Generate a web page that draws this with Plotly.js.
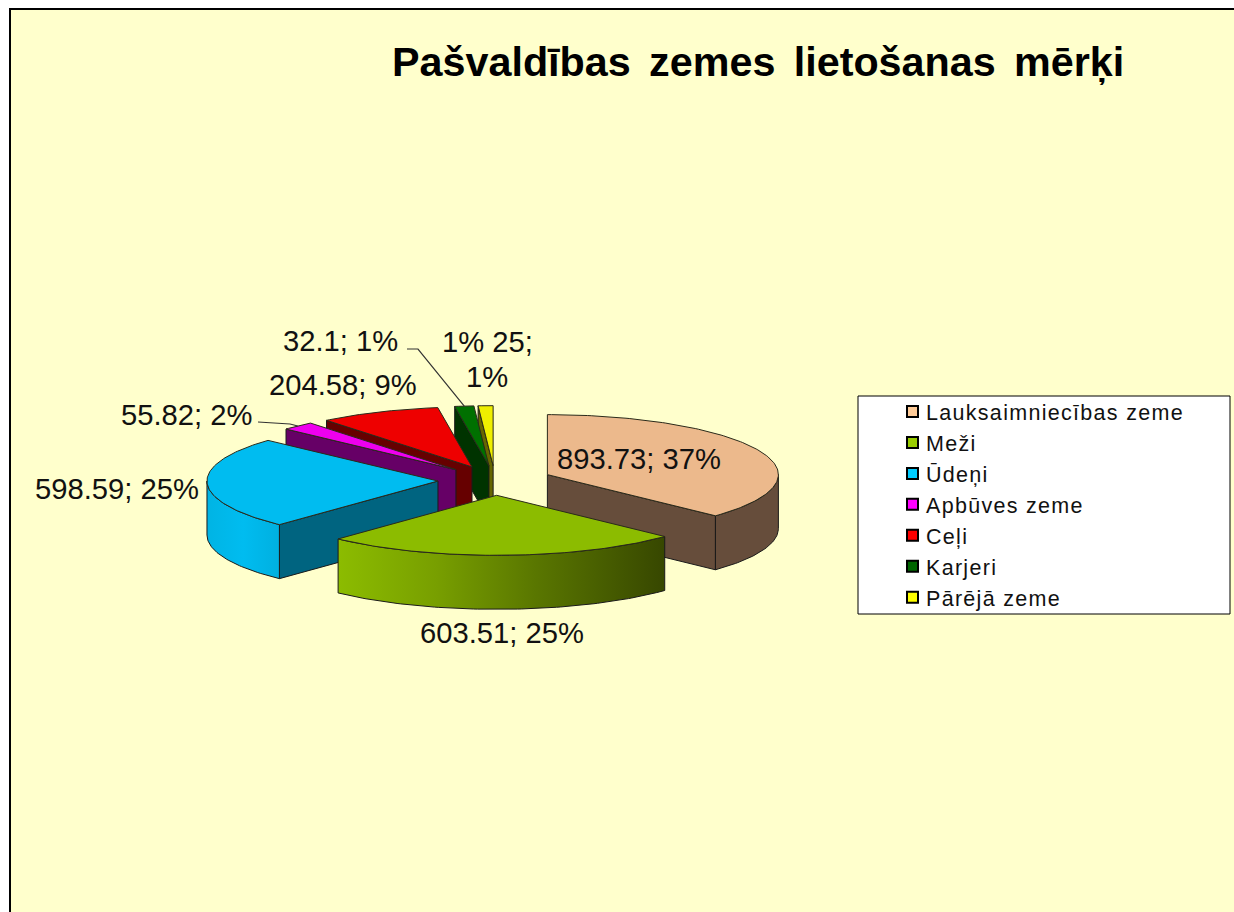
<!DOCTYPE html>
<html>
<head>
<meta charset="utf-8">
<script src="https://cdn.plot.ly/plotly-3.0.1.min.js"></script>
<style>html,body{margin:0;padding:0;background:#fff;overflow:hidden}#chart{width:1234px;height:912px}
.legendtext{letter-spacing:1.3px;transform:translateX(-6.5px)}</style>
</head>
<body>
<div id="chart"></div>
<script>
const categories = ['Lauksaimniecības zeme','Meži','Ūdeņi','Apbūves zeme','Ceļi','Karjeri','Pārējā zeme'];
const values = [893.73,603.51,598.59,55.82,204.58,32.1,25];
const percents = [37,25,25,2,9,1,1];
const topColors = ['#ecb98c','#8cbc00','#00bcf0','#ee00ee','#ee0000','#007000','#eeee00'];
const wallColors = ['#664d3b','#4a6000','#006480','#660066','#660000','#003300','#666600'];
const legendColors = ['#ffcc99','#99cc00','#00ccff','#ff00ff','#ff0000','#006600','#ffff00'];
const drawOrder = [6,5,4,3,2,0,1];
const labelTexts = categories.map((c,i)=>`${values[i]}; ${percents[i]}%`);
labelTexts[6] = `1% ${values[6]};`;
const labelAnchors = [[638.5,459],[502,633],[117,489],[186,415],[343,385],[340.5,341],[487,342]];
const extraLabel = {text:`${percents[6]}%`,x:487,y:377};
const leaderStarts = {3:[258,422,290,424],5:[407,349,418,349]};

const cx=495, cy=480.5, rx=231, ry=60, depth=54, pull=0.247;
const total = values.reduce((a,b)=>a+b,0);
const rad = d => d*Math.PI/180;
const pt = (ap,a,dz=0) => [ap[0]+rx*Math.sin(rad(a)), ap[1]-ry*Math.cos(rad(a))+dz];

const wedges=[]; let run=0;
values.forEach(v=>{const a0=run/total*360; run+=v; const a1=run/total*360; const m=(a0+a1)/2;
  wedges.push({a0,a1,apex:[cx+pull*rx*Math.sin(rad(m)),cy-pull*ry*Math.cos(rad(m))]});});

function arc(ap,a0,a1,dz=0){const out=[];const n=Math.max(2,Math.ceil(Math.abs(a1-a0)));
  for(let i=0;i<=n;i++)out.push(pt(ap,a0+(a1-a0)*i/n,dz));return out;}
function poly(points,fill,line,extra){const p=points.concat([points[0]]);
  return Object.assign({type:'scatter',mode:'lines',x:p.map(q=>q[0]),y:p.map(q=>q[1]),fill:'toself',fillcolor:fill,
    line:{color:line,width:1},showlegend:false,hoverinfo:'skip'},extra||{});}

const traces=[];
drawOrder.forEach(i=>{const w=wedges[i];
  if(-Math.cos(rad(w.a0-90))>0.001 && w.a0>0){traces.push(poly([w.apex,pt(w.apex,w.a0),pt(w.apex,w.a0,depth),[w.apex[0],w.apex[1]+depth]],wallColors[i],'#1a1a1a'));}
  if(-Math.cos(rad(w.a1+90))>0.001 && w.a1<359.9){traces.push(poly([w.apex,pt(w.apex,w.a1),pt(w.apex,w.a1,depth),[w.apex[0],w.apex[1]+depth]],wallColors[i],'#1a1a1a'));}
  const s=Math.max(w.a0,90), e=Math.min(w.a1,270);
  if(e>s){const pts=arc(w.apex,s,e).concat(arc(w.apex,e,s,depth));
    let extra={};
    if(i===1)extra={fillgradient:{type:'horizontal',colorscale:[[0,'#8cbc00'],[0.3,'#789f00'],[0.6,'#5a7700'],[1,'#374700']]}};
    if(i===2)extra={fillgradient:{type:'horizontal',colorscale:[[0,'#00b4e4'],[0.5,'#00bcf0'],[1,'#00b0e0']]}};
    traces.push(poly(pts,wallColors[i],'#1a1a1a',extra));}
  traces.push(poly([w.apex].concat(arc(w.apex,w.a0,w.a1)),topColors[i],'#2a2a1a'));
});

Object.keys(leaderStarts).forEach(k=>{const i=+k,w=wedges[i],s=leaderStarts[k];
  const end=pt(w.apex,(w.a0+w.a1)/2);
  traces.push({type:'scatter',mode:'lines',x:[s[0],s[2],end[0]],y:[s[1],s[3],end[1]],line:{color:'#333',width:1.2},showlegend:false,hoverinfo:'skip'});});

categories.forEach((c,i)=>traces.push({type:'scatter',mode:'markers',x:[null],y:[null],name:c,showlegend:true,
  marker:{symbol:'square',size:11,color:legendColors[i],line:{color:'#000',width:2}}}));

const labelFont={family:'Liberation Sans, Arial, sans-serif',size:29.2,color:'#111'};
const annotations=labelTexts.map((t,i)=>({xref:'x',yref:'y',x:labelAnchors[i][0],y:labelAnchors[i][1],
  text:t,showarrow:false,xanchor:'center',yanchor:'middle',align:'center',font:labelFont}));
annotations.push({xref:'x',yref:'y',x:extraLabel.x,y:extraLabel.y,text:extraLabel.text,showarrow:false,xanchor:'center',yanchor:'middle',font:labelFont});

const layout={width:1234,height:912,margin:{l:0,r:0,t:0,b:0},paper_bgcolor:'#fff',plot_bgcolor:'rgba(0,0,0,0)',
  title:{text:'Pašvaldības \u2006zemes \u2006lietošanas \u2006mērķi',x:392/1234,xanchor:'left',y:1-62/912,yanchor:'middle',
    font:{family:'Liberation Sans, Arial, sans-serif',size:41.3,color:'#000',weight:700}},
  xaxis:{range:[0,1234],visible:false,fixedrange:true},
  yaxis:{range:[912,0],visible:false,fixedrange:true},
  hovermode:false,annotations,
  shapes:[
    {type:'rect',xref:'x',yref:'y',x0:10,y0:9,x1:1300,y1:1000,fillcolor:'#ffffcc',line:{color:'#000',width:2},layer:'below'},
    {type:'rect',xref:'x',yref:'y',x0:858,y0:396,x1:1230,y1:614,fillcolor:'#fff',line:{color:'#000',width:1},layer:'below'}],
  legend:{x:862.5/1234,y:1-391/912,xanchor:'left',yanchor:'top',bgcolor:'rgba(0,0,0,0)',borderwidth:0,
    indentation:30,tracegroupgap:0,
    font:{family:'Liberation Sans, Arial, sans-serif',size:21.5,color:'#111'}}
};
Plotly.newPlot('chart',traces,layout,{displayModeBar:false,staticPlot:true});
</script>
</body>
</html>
